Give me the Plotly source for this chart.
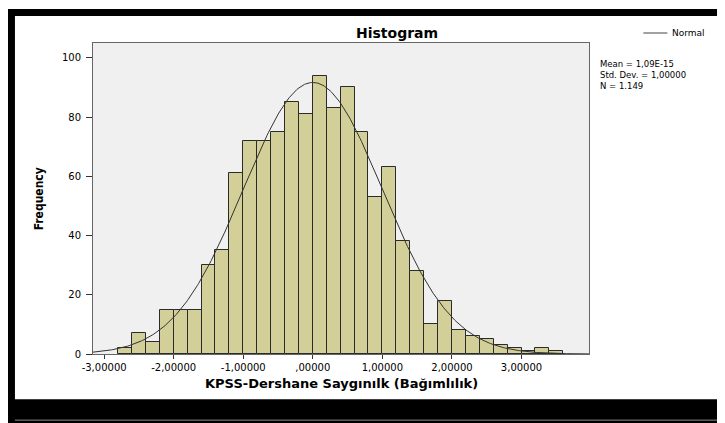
import numpy as np
import plotly.graph_objects as go

# ---- data ----
bin_start = -2.8
bin_width = 0.2
counts = [2, 7, 4, 15, 15, 15, 30, 35, 61, 72, 72, 75, 85, 81, 94, 83,
          90, 75, 53, 63, 38, 28, 10, 18, 8, 6, 5, 3, 2, 1, 2, 1]
x_tickvals = [-3, -2, -1, 0, 1, 2, 3]
x_ticktext = ["-3,00000", "-2,00000", "-1,00000", ",00000", "1,00000", "2,00000", "3,00000"]
y_tickvals = [0, 20, 40, 60, 80, 100]
mean_val = 0.0
sd_val = 1.0
n_val = 1149
stats_lines = ["Mean = 1,09E-15", "Std. Dev. = 1,00000", "N = 1.149"]

bin_centers = [bin_start + bin_width * (i + 0.5) for i in range(len(counts))]

# ---- geometry (figure pixels; page body adds an 8px offset) ----
OFF = 8
W, H = 725, 423
L, T = 93 - OFF, 43 - OFF
R = W - (588.7 - OFF)
B = H - (354.3 - OFF)
PW, PH = W - L - R, H - T - B
XR = [-3.16, 3.97]
YR = [0, 105]


def px(x):
    # screen x -> paper
    return (x - OFF - L) / PW


def py(y):
    # screen y -> paper
    return (H - B - (y - OFF)) / PH


xs = np.linspace(XR[0], XR[1], 400)
ys = n_val * bin_width * np.exp(-0.5 * ((xs - mean_val) / sd_val) ** 2) / (sd_val * np.sqrt(2 * np.pi))

FONT = "DejaVu Sans, Liberation Sans, Arial, sans-serif"

fig = go.Figure()
fig.add_trace(go.Bar(
    x=bin_centers, y=counts, width=bin_width,
    marker=dict(color="#d3cf99", line=dict(color="#2b2b2b", width=1)),
    hoverinfo="x+y", showlegend=False,
))
fig.add_trace(go.Scatter(
    x=xs, y=ys, mode="lines", line=dict(color="#333333", width=1),
    showlegend=False, hoverinfo="skip",
))

shapes = []
# black frame bands
for (x0, y0, x1, y1) in [(7, 9, 740, 16), (7, 9, 15, 440), (7, 399.7, 740, 440)]:
    shapes.append(dict(type="rect", xref="paper", yref="paper",
                       x0=px(x0), x1=px(x1), y0=py(y1), y1=py(y0),
                       fillcolor="black", line=dict(width=0), layer="above"))
shapes.append(dict(type="line", xref="paper", yref="paper",
                   x0=px(15), x1=px(740), y0=py(420.5), y1=py(420.5),
                   line=dict(color="#8a8a8a", width=1)))
# legend line sample
shapes.append(dict(type="line", xref="paper", yref="paper",
                   x0=px(643), x1=px(667), y0=py(33), y1=py(33),
                   line=dict(color="#444444", width=1)))

annotations = [
    dict(text="<b>Histogram</b>", x=px(397), y=py(33), xref="paper", yref="paper",
         xanchor="center", yanchor="middle", showarrow=False,
         font=dict(family=FONT, size=14, color="black")),
    dict(text="<b>KPSS-Dershane Saygınılk (Bağımlılık)</b>", x=px(341), y=py(384),
         xref="paper", yref="paper", xanchor="center", yanchor="middle", showarrow=False,
         font=dict(family=FONT, size=13, color="black")),
    dict(text="<b>Frequency</b>", x=px(39), y=py(198.5), xref="paper", yref="paper",
         xanchor="center", yanchor="middle", showarrow=False, textangle=-90,
         font=dict(family="Liberation Sans Narrow, DejaVu Sans Condensed, Roboto Condensed, Arial Narrow, sans-serif",
                   size=12, color="black")),
    dict(text="Normal", x=px(670), y=py(33), xref="paper", yref="paper",
         xanchor="left", yanchor="middle", showarrow=False,
         font=dict(family=FONT, size=9, color="black")),
    dict(text="<br>".join(stats_lines), x=px(598), y=py(57), xref="paper", yref="paper",
         xanchor="left", yanchor="top", align="left", showarrow=False,
         font=dict(family=FONT, size=8.5, color="black")),
]

fig.update_layout(
    width=W, height=H,
    margin=dict(l=L, r=R, t=T, b=B, pad=0),
    paper_bgcolor="white", plot_bgcolor="#f0f0f0",
    bargap=0, showlegend=False,
    shapes=shapes, annotations=annotations,
    xaxis=dict(range=XR, tickvals=x_tickvals, ticktext=x_ticktext,
               ticks="outside", ticklen=4, tickcolor="#333333", tickwidth=1,
               showgrid=False, zeroline=False, showline=True, linecolor="#666666",
               linewidth=1, mirror=True,
               tickfont=dict(family=FONT, size=10, color="black")),
    yaxis=dict(range=YR, tickvals=y_tickvals, ticks="outside", ticklen=6,
               tickcolor="#333333", tickwidth=1, showgrid=False, zeroline=False,
               showline=True, linecolor="#666666", linewidth=1, mirror=True,
               ticklabelstandoff=3,
               tickfont=dict(family=FONT, size=10, color="black")),
)

fig.write_html("out.html")
